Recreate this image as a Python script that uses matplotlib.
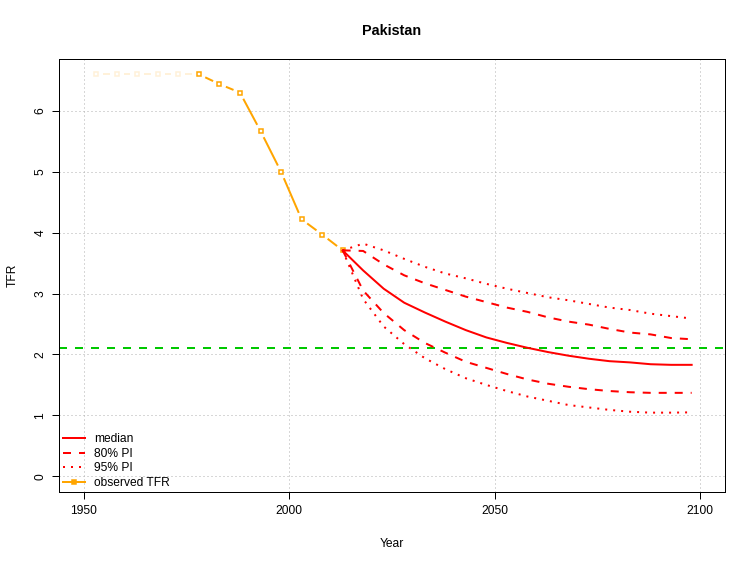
import numpy as np
import matplotlib
matplotlib.use("Agg")
import matplotlib.pyplot as plt
from matplotlib.lines import Line2D

plt.rcParams['font.family'] = ['Liberation Sans', 'DejaVu Sans']

# observed TFR (5-year periods, mid-year)
obs_years = [1953, 1958, 1963, 1968, 1973, 1978, 1983, 1988, 1993, 1998, 2003, 2008, 2013]
obs_tfr = [6.60, 6.60, 6.60, 6.60, 6.60, 6.60, 6.44, 6.30, 5.67, 5.00, 4.22, 3.97, 3.71]
n_phase1 = 5  # pre-decline points drawn faded

# projections
proj_years = [2013, 2018, 2023, 2028, 2033, 2038, 2043, 2048, 2053,
              2058, 2063, 2068, 2073, 2078, 2083, 2088, 2093, 2098]
median = [3.71, 3.38, 3.08, 2.85, 2.69, 2.54, 2.40, 2.28, 2.19,
          2.11, 2.04, 1.98, 1.93, 1.89, 1.87, 1.84, 1.83, 1.83]
upper80 = [3.71, 3.70, 3.48, 3.30, 3.17, 3.06, 2.95, 2.86, 2.77,
           2.70, 2.61, 2.54, 2.49, 2.42, 2.36, 2.33, 2.27, 2.25]
lower80 = [3.71, 3.05, 2.68, 2.40, 2.19, 2.03, 1.88, 1.78, 1.68,
           1.59, 1.52, 1.47, 1.43, 1.40, 1.38, 1.37, 1.37, 1.37]
upper95 = [3.71, 3.82, 3.71, 3.57, 3.44, 3.33, 3.25, 3.16, 3.08,
           3.01, 2.94, 2.89, 2.83, 2.77, 2.73, 2.67, 2.63, 2.59]
lower95 = [3.71, 2.91, 2.46, 2.17, 1.94, 1.76, 1.61, 1.50, 1.40,
           1.31, 1.24, 1.17, 1.13, 1.09, 1.06, 1.045, 1.045, 1.05]

replacement_level = 2.1

W, H = 755, 566
DPI = 100
px = 72.0 / DPI  # one pixel in points

fig = plt.figure(figsize=(W / DPI, H / DPI), dpi=DPI)
left, right, top, bottom = 59.3, 724.5, 59.3, 492.3
ax = fig.add_axes([left / W, 1 - bottom / H, (right - left) / W, (bottom - top) / H])
ax.set_xlim(1944, 2106)
ax.set_ylim(-0.263, 6.847)

ax.set_xticks([1950, 2000, 2050, 2100])
ax.set_yticks([0, 1, 2, 3, 4, 5, 6])
ax.tick_params(direction='out', length=7 * px, width=1 * px, labelsize=12 * px, color='black')
ax.tick_params(axis='x', pad=6 * px)
ax.tick_params(axis='y', pad=6 * px)
for lab in ax.get_yticklabels():
    lab.set_rotation(90)
    lab.set_va('center')
for s in ax.spines.values():
    s.set_linewidth(1 * px)

ax.grid(True, color='#B0B0B0', lw=1 * px, linestyle=(0, (1, 3)))
ax.set_axisbelow(True)

LW = 2 * px
orange = '#FFA500'
faded = '#FFF1D9'


def draw_type_b(x, y, color, gap=7.0):
    # R type="b": segments with a gap round each point
    pts = ax.transData.transform(np.column_stack([x, y]))
    inv = ax.transData.inverted()
    for p0, p1 in zip(pts[:-1], pts[1:]):
        d = p1 - p0
        L = np.hypot(*d)
        if L <= 2 * gap:
            continue
        u = d / L
        a, b = inv.transform([p0 + u * gap, p1 - u * gap])
        ax.plot([a[0], b[0]], [a[1], b[1]], color=color, lw=LW, solid_capstyle='butt', zorder=3)


draw_type_b(obs_years[:n_phase1 + 1], obs_tfr[:n_phase1 + 1], faded)
draw_type_b(obs_years[n_phase1:], obs_tfr[n_phase1:], orange)
ax.plot(obs_years[:n_phase1], obs_tfr[:n_phase1], linestyle='none', marker='s', ms=2.6,
        mew=1.1, mec=faded, mfc='white', zorder=4)
ax.plot(obs_years[n_phase1:], obs_tfr[n_phase1:], linestyle='none', marker='s', ms=2.6,
        mew=1.1, mec=orange, mfc='white', zorder=4)

ax.axhline(replacement_level, color='#00C800', lw=LW, linestyle=(0, (4, 4)), zorder=2)

dash = (0, (4, 4))
dot = (0, (1, 3))
ax.plot(proj_years, median, color='red', lw=LW, zorder=5)
ax.plot(proj_years, upper80, color='red', lw=LW, linestyle=dash, zorder=5)
ax.plot(proj_years, lower80, color='red', lw=LW, linestyle=dash, zorder=5)
ax.plot(proj_years, upper95, color='red', lw=LW, linestyle=dot, zorder=5)
ax.plot(proj_years, lower95, color='red', lw=LW, linestyle=dot, zorder=5)

handles = [
    Line2D([], [], color='red', lw=LW),
    Line2D([], [], color='red', lw=LW, linestyle=dash),
    Line2D([], [], color='red', lw=LW, linestyle=dot),
    Line2D([], [], color=orange, lw=LW, marker='s', ms=2.6, mew=1.1, mec=orange, mfc=orange),
]
labels = ['median', '80% PI', '95% PI', 'observed TFR']
ax.legend(handles, labels, loc='lower left', bbox_to_anchor=(0.0, 0.0), frameon=False,
          fontsize=12 * px, handlelength=1.85, handletextpad=0.75, labelspacing=0.2,
          borderpad=0.25, borderaxespad=0.05)

fig.text(392 / W, 1 - 31 / H, 'Pakistan', ha='center', va='center', fontsize=14.4 * px, fontweight='bold')
fig.text(392 / W, 1 - 544 / H, 'Year', ha='center', va='center', fontsize=12 * px)
fig.text(13 / W, 1 - 275.8 / H, 'TFR', ha='center', va='center', rotation=90, fontsize=12 * px)

fig.savefig('out.png', dpi=DPI)
